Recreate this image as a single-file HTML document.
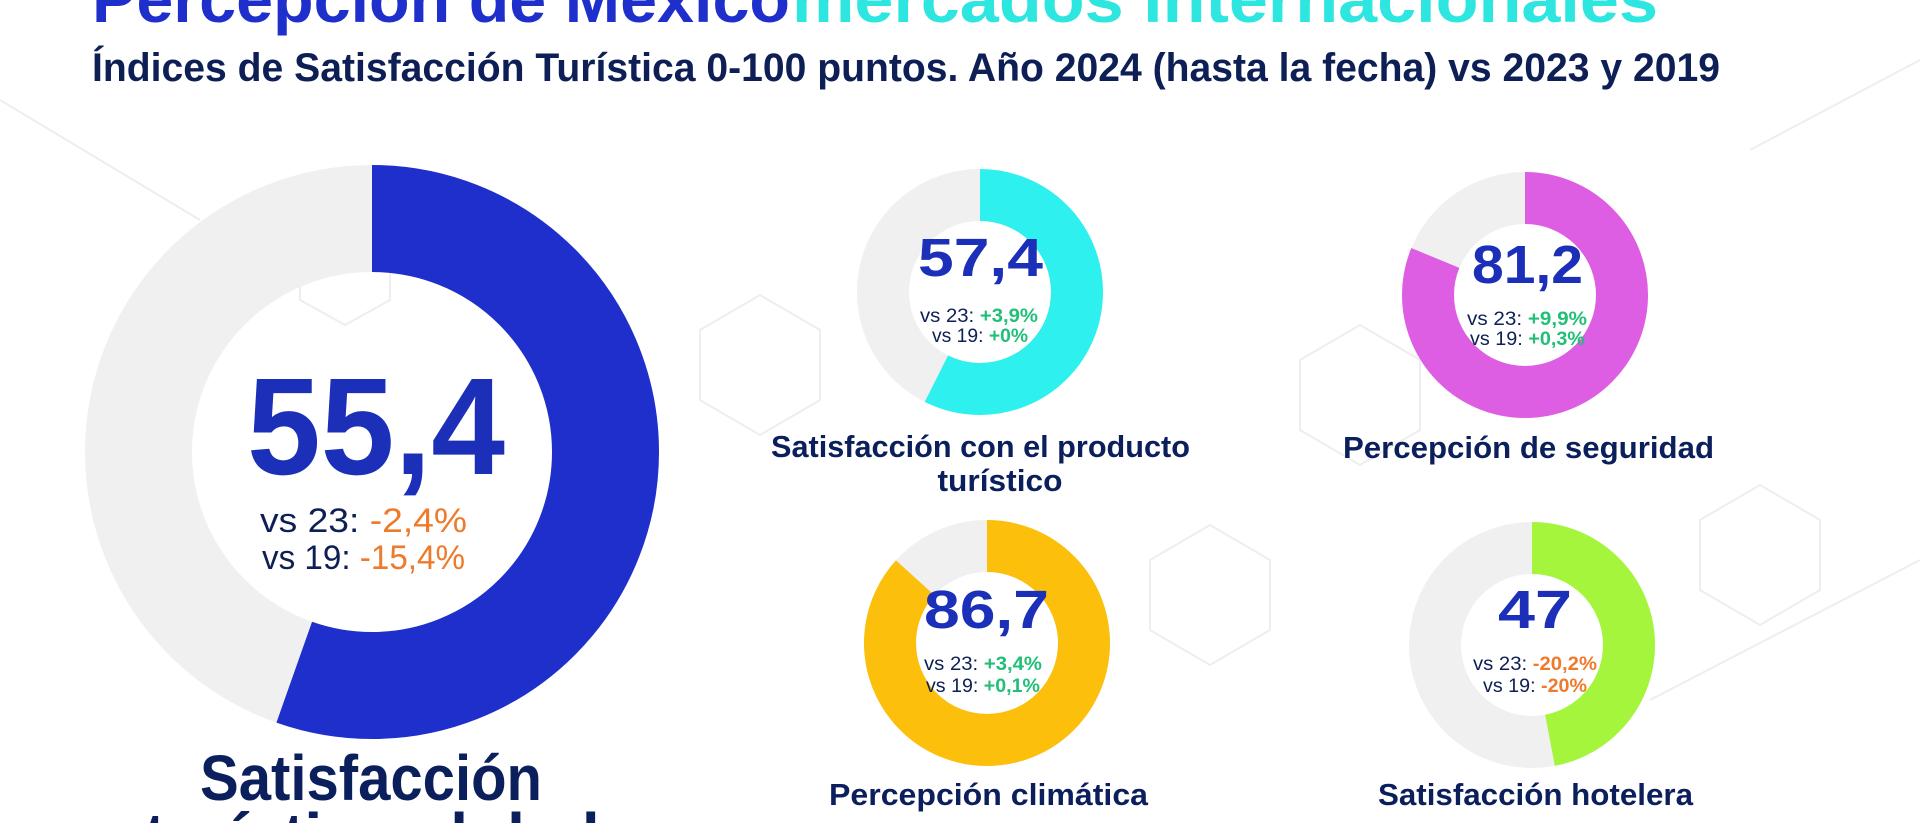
<!DOCTYPE html>
<html><head><meta charset="utf-8"><style>
html,body{margin:0;padding:0;background:#fff;width:1920px;height:823px;overflow:hidden;}
svg{display:block;overflow:hidden;}
text{font-family:"Liberation Sans",sans-serif;font-weight:bold;}
</style></head><body>
<svg width="1920" height="823" viewBox="0 0 1920 823" xmlns="http://www.w3.org/2000/svg">
<g fill="none" stroke="#eeeeee" stroke-width="2">
<polygon points="700,330 760,295 820,330 820,400 760,435 700,400"/>
<polygon points="1300,360 1360,325 1420,360 1420,430 1360,465 1300,430"/>
<polygon points="1150,560 1210,525 1270,560 1270,630 1210,665 1150,630"/>
<polygon points="1700,520 1760,485 1820,520 1820,590 1760,625 1700,590"/>
<polygon points="300,250 345,225 390,250 390,300 345,325 300,300"/>
<line x1="0" y1="100" x2="200" y2="220"/>
<line x1="1750" y1="150" x2="1920" y2="60"/>
<line x1="1650" y1="700" x2="1920" y2="560"/>
</g>
<text x="92" y="22" font-size="66" fill="#1f2fcc" textLength="698" lengthAdjust="spacingAndGlyphs">Percepción de México</text>
<text x="792" y="22" font-size="66" fill="#2de6e0" textLength="866" lengthAdjust="spacingAndGlyphs">mercados internacionales</text>
<text x="92" y="81" font-size="40" fill="#0d1f55" textLength="1628" lengthAdjust="spacingAndGlyphs">Índices de Satisfacción Turística 0-100 puntos. Año 2024 (hasta la fecha) vs 2023 y 2019</text>

<g transform="translate(372,452) rotate(-90)">
<circle r="233.5" fill="none" stroke="#f0f0f0" stroke-width="107"/>
<circle r="233.5" fill="none" stroke="#1f2fcc" stroke-width="107" stroke-dasharray="812.7 2000"/>
</g>
<text x="247" y="474" font-size="138" fill="#1b2fb8" textLength="258" lengthAdjust="spacingAndGlyphs">55,4</text>
<text x="260" y="532" font-size="34" style="font-weight:normal" textLength="207" lengthAdjust="spacingAndGlyphs"><tspan fill="#0d1f55">vs 23:  </tspan><tspan fill="#ee7a2c">-2,4%</tspan></text>
<text x="262" y="569" font-size="34" style="font-weight:normal" textLength="203" lengthAdjust="spacingAndGlyphs"><tspan fill="#0d1f55">vs 19: </tspan><tspan fill="#ee7a2c">-15,4%</tspan></text>
<text x="200" y="800" font-size="64" fill="#0b1f5c" textLength="342" lengthAdjust="spacingAndGlyphs">Satisfacción</text>
<text x="372" y="858" font-size="64" fill="#0b1f5c" text-anchor="middle">turística global</text>

<g transform="translate(980,292) rotate(-90)">
<circle r="97" fill="none" stroke="#f0f0f0" stroke-width="52"/>
<circle r="97" fill="none" stroke="#2ef0ee" stroke-width="52" stroke-dasharray="349.8 1000"/>
</g>
<text x="918" y="276" font-size="54" fill="#1b2fb8" textLength="125" lengthAdjust="spacingAndGlyphs">57,4</text>
<text x="920" y="322" font-size="19" style="font-weight:normal" textLength="118" lengthAdjust="spacingAndGlyphs"><tspan fill="#0d1f55">vs 23: </tspan><tspan fill="#22bf78" font-weight="bold">+3,9%</tspan></text>
<text x="932" y="342" font-size="19" style="font-weight:normal" textLength="96" lengthAdjust="spacingAndGlyphs"><tspan fill="#0d1f55">vs 19: </tspan><tspan fill="#22bf78" font-weight="bold">+0%</tspan></text>
<text x="771" y="457" font-size="31" fill="#0b1f5c" textLength="419" lengthAdjust="spacingAndGlyphs">Satisfacción con el producto</text>
<text x="1000" y="491" font-size="31" fill="#0b1f5c" text-anchor="middle" textLength="125" lengthAdjust="spacingAndGlyphs">turístico</text>

<g transform="translate(1525,295) rotate(-90)">
<circle r="97" fill="none" stroke="#f0f0f0" stroke-width="52"/>
<circle r="97" fill="none" stroke="#dd5ee2" stroke-width="52" stroke-dasharray="494.9 1000"/>
</g>
<text x="1472" y="283" font-size="54" fill="#1b2fb8" textLength="111" lengthAdjust="spacingAndGlyphs">81,2</text>
<text x="1467" y="325" font-size="19" style="font-weight:normal" textLength="120" lengthAdjust="spacingAndGlyphs"><tspan fill="#0d1f55">vs 23: </tspan><tspan fill="#22bf78" font-weight="bold">+9,9%</tspan></text>
<text x="1470" y="345" font-size="19" style="font-weight:normal" textLength="115" lengthAdjust="spacingAndGlyphs"><tspan fill="#0d1f55">vs 19: </tspan><tspan fill="#22bf78" font-weight="bold">+0,3%</tspan></text>
<text x="1343" y="458" font-size="31" fill="#0b1f5c" textLength="371" lengthAdjust="spacingAndGlyphs">Percepción de seguridad</text>

<g transform="translate(987,643) rotate(-90)">
<circle r="97" fill="none" stroke="#f0f0f0" stroke-width="52"/>
<circle r="97" fill="none" stroke="#fbbf0c" stroke-width="52" stroke-dasharray="528.4 1000"/>
</g>
<text x="924" y="628" font-size="54" fill="#1b2fb8" textLength="125" lengthAdjust="spacingAndGlyphs">86,7</text>
<text x="924" y="670" font-size="19" style="font-weight:normal" textLength="118" lengthAdjust="spacingAndGlyphs"><tspan fill="#0d1f55">vs 23: </tspan><tspan fill="#22bf78" font-weight="bold">+3,4%</tspan></text>
<text x="926" y="692" font-size="19" style="font-weight:normal" textLength="114" lengthAdjust="spacingAndGlyphs"><tspan fill="#0d1f55">vs 19: </tspan><tspan fill="#22bf78" font-weight="bold">+0,1%</tspan></text>
<text x="829" y="805" font-size="31" fill="#0b1f5c" textLength="319" lengthAdjust="spacingAndGlyphs">Percepción climática</text>

<g transform="translate(1532,645) rotate(-90)">
<circle r="97" fill="none" stroke="#f0f0f0" stroke-width="52"/>
<circle r="97" fill="none" stroke="#a4f53c" stroke-width="52" stroke-dasharray="286.5 1000"/>
</g>
<text x="1498" y="628" font-size="54" fill="#1b2fb8" textLength="74" lengthAdjust="spacingAndGlyphs">47</text>
<text x="1473" y="670" font-size="19" style="font-weight:normal" textLength="124" lengthAdjust="spacingAndGlyphs"><tspan fill="#0d1f55">vs 23: </tspan><tspan fill="#ee7a2c" font-weight="bold">-20,2%</tspan></text>
<text x="1483" y="692" font-size="19" style="font-weight:normal" textLength="104" lengthAdjust="spacingAndGlyphs"><tspan fill="#0d1f55">vs 19: </tspan><tspan fill="#ee7a2c" font-weight="bold">-20%</tspan></text>
<text x="1378" y="805" font-size="31" fill="#0b1f5c" textLength="315" lengthAdjust="spacingAndGlyphs">Satisfacción hotelera</text>
</svg>
</body></html>
